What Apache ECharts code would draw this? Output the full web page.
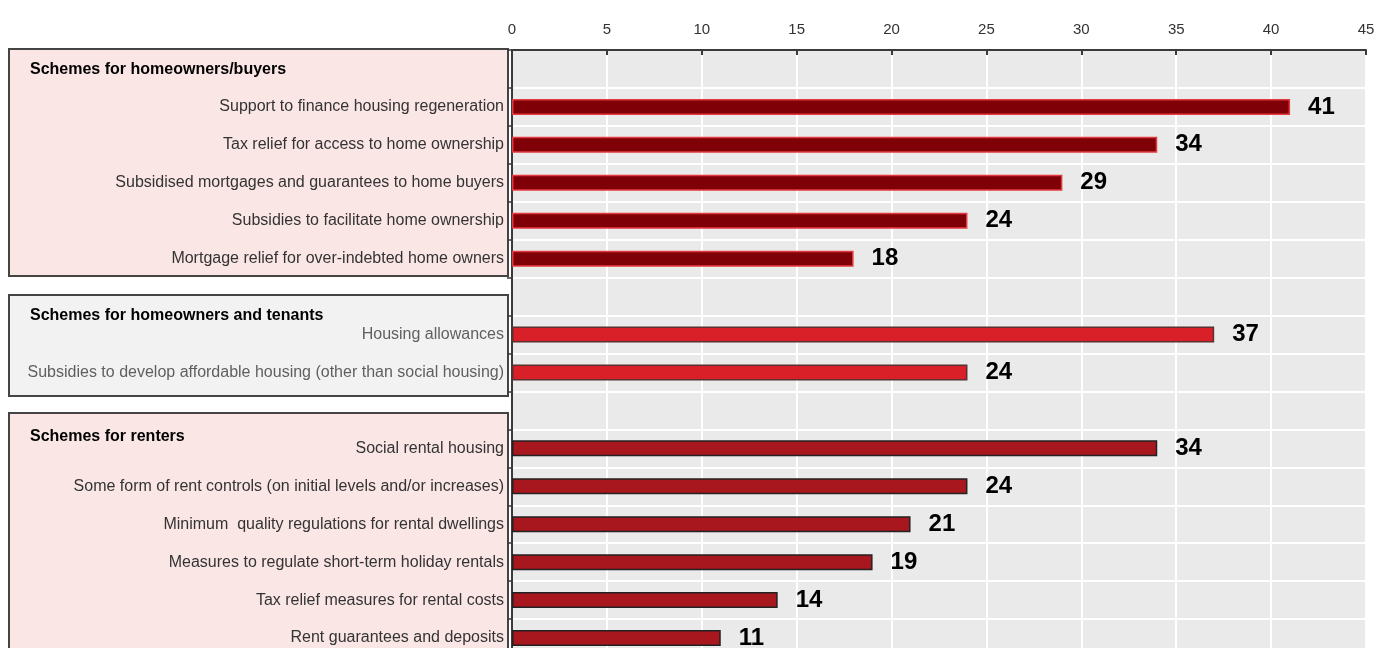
<!DOCTYPE html>
<html>
<head>
<meta charset="utf-8">
<script src="https://cdn.jsdelivr.net/npm/echarts@6/dist/echarts.min.js"></script>
<style>html,body{margin:0;padding:0;background:#fff}#c{width:1384px;height:648px}</style>
</head>
<body>
<div id="c"></div>
<script>
// Categories top-to-bottom (blank slots hold the group headers / gaps)
var categories = [
  '',
  'Support to finance housing regeneration',
  'Tax relief for access to home ownership',
  'Subsidised mortgages and guarantees to home buyers',
  'Subsidies to facilitate home ownership',
  'Mortgage relief for over-indebted home owners',
  ' ',
  'Housing allowances',
  'Subsidies to develop affordable housing (other than social housing)',
  '  ',
  'Social rental housing',
  'Some form of rent controls (on initial levels and/or increases)',
  'Minimum  quality regulations for rental dwellings',
  'Measures to regulate short-term holiday rentals',
  'Tax relief measures for rental costs',
  'Rent guarantees and deposits'
];
var homeownersValues = ['-', 41, 34, 29, 24, 18, '-', '-', '-', '-', '-', '-', '-', '-', '-', '-'];
var tenantsValues    = ['-', '-', '-', '-', '-', '-', '-', 37, 24, '-', '-', '-', '-', '-', '-', '-'];
var rentersValues    = ['-', '-', '-', '-', '-', '-', '-', '-', '-', '-', 34, 24, 21, 19, 14, 11];
var groupHeaders = ['Schemes for homeowners/buyers', 'Schemes for homeowners and tenants', 'Schemes for renters'];
var xTicks = [0, 5, 10, 15, 20, 25, 30, 35, 40, 45];

var FONT = "'Liberation Sans',Arial,sans-serif";
var chart = echarts.init(document.getElementById('c'));

var labelStyle = {
  show: true, position: 'right', distance: 18,
  fontFamily: FONT, fontWeight: 'bold', fontSize: 24, color: '#000'
};

chart.setOption({
  animation: false,
  backgroundColor: '#fff',
  grid: {
    left: 512, right: 18, top: 50, height: 607,
    show: true, backgroundColor: '#EAEAEA', borderWidth: 0,
    containLabel: false, outerBoundsMode: 'none'
  },
  xAxis: {
    type: 'value', position: 'top', min: 0, max: 45, interval: 5,
    axisLine: { show: true, lineStyle: { color: '#3a3a3a', width: 2 } },
    axisTick: { show: true, inside: true, length: 5, lineStyle: { color: '#3a3a3a', width: 2 } },
    axisLabel: { margin: 13, fontFamily: FONT, fontSize: 15, color: '#333',
      formatter: function (v) { return xTicks.indexOf(v) >= 0 ? String(v) : ''; } },
    splitLine: { show: true, lineStyle: { color: '#fff', width: 2 } }
  },
  yAxis: {
    type: 'category', inverse: true, data: categories,
    axisLine: { show: true, lineStyle: { color: '#3a3a3a', width: 2 } },
    axisTick: { show: true, length: 5, lineStyle: { color: '#3a3a3a', width: 1.5 } },
    axisLabel: { margin: 8, fontFamily: FONT, fontSize: 16,
      color: function (v, i) { return (i === 7 || i === 8) ? '#5f5f5f' : '#333'; } },
    splitLine: { show: true, lineStyle: { color: '#fff', width: 2 } }
  },
  graphic: [
    { type: 'rect', z: -1, shape: { x: 9, y: 49, width: 499, height: 227 },
      style: { fill: '#FBE6E6', stroke: '#444', lineWidth: 2 } },
    { type: 'rect', z: -1, shape: { x: 9, y: 295, width: 499, height: 101 },
      style: { fill: '#F2F2F2', stroke: '#444', lineWidth: 2 } },
    { type: 'rect', z: -1, shape: { x: 9, y: 413, width: 499, height: 260 },
      style: { fill: '#FBE6E6', stroke: '#444', lineWidth: 2 } },
    { type: 'text', left: 30, top: 62, style: { text: groupHeaders[0], font: "bold 16px " + FONT, fill: '#000' } },
    { type: 'text', left: 30, top: 308, style: { text: groupHeaders[1], font: "bold 16px " + FONT, fill: '#000' } },
    { type: 'text', left: 30, top: 429, style: { text: groupHeaders[2], font: "bold 16px " + FONT, fill: '#000' } }
  ],
  series: [
    { type: 'bar', name: groupHeaders[0], data: homeownersValues, barWidth: 16, barGap: '-100%',
      itemStyle: { color: '#800008', borderColor: '#E33A40', borderWidth: 1.5 }, label: labelStyle },
    { type: 'bar', name: groupHeaders[1], data: tenantsValues, barWidth: 16, barGap: '-100%',
      itemStyle: { color: '#D92029', borderColor: '#5a3030', borderWidth: 1.5 }, label: labelStyle },
    { type: 'bar', name: groupHeaders[2], data: rentersValues, barWidth: 16, barGap: '-100%',
      itemStyle: { color: '#A8171E', borderColor: '#222', borderWidth: 1.5 }, label: labelStyle }
  ]
});
</script>
</body>
</html>
